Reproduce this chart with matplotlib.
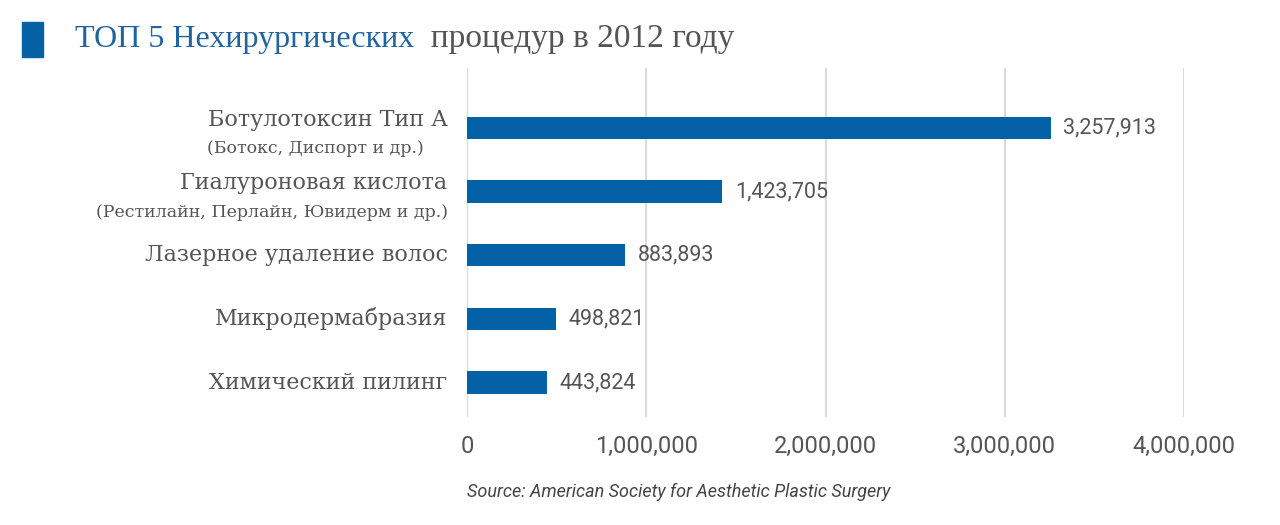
import matplotlib.pyplot as plt
from matplotlib.patches import Rectangle
from matplotlib.ticker import FuncFormatter

# data
procedures = ["Ботулотоксин Тип А", "Гиалуроновая кислота", "Лазерное удаление волос",
              "Микродермабразия", "Химический пилинг"]
subnotes = ["(Ботокс, Диспорт и др.)", "(Рестилайн, Перлайн, Ювидерм и др.)", "", "", ""]
counts = [3257913, 1423705, 883893, 498821, 443824]
ticks = [0, 1000000, 2000000, 3000000, 4000000]

blue = "#0561a6"
gray = "#555555"
W, H = 1280, 525

fig = plt.figure(figsize=(W / 100, H / 100), dpi=100)
fig.patch.set_facecolor("white")

# axes placed in pixel coordinates of the reference
left, right, top, bottom = 467, 1184, 68, 417
ax = fig.add_axes([left / W, 1 - bottom / H, (right - left) / W, (bottom - top) / H])

pos = list(range(len(counts)))
ax.barh(pos, counts, height=0.35, color=blue, zorder=3)
ax.set_xlim(0, 4000000)
ax.set_ylim(4.54, -0.94)

ax.set_xticks(ticks)
ax.xaxis.set_major_formatter(FuncFormatter(lambda v, p: f"{int(v):,}"))
ax.tick_params(axis="x", length=0, pad=13, labelsize=17, labelcolor=gray)
for lab in ax.get_xticklabels():
    lab.set_fontfamily("Roboto")
ax.set_yticks([])
ax.grid(axis="x", color="#d9d9d9", linewidth=1.5, zorder=0)
for s in ax.spines.values():
    s.set_visible(False)

# value labels
for i, v in enumerate(counts):
    ax.annotate(f"{v:,}", (v, i), xytext=(9, 0), textcoords="offset points",
                va="center", ha="left", fontsize=15.5, color=gray, family="Roboto")

# category labels with optional notes
lab_font = dict(ha="right", va="center", color=gray, family="DejaVu Serif",
                textcoords="offset points", annotation_clip=False)
for i, (name, note) in enumerate(zip(procedures, subnotes)):
    if note:
        ax.annotate(name, (0, i), xytext=(-14, 6), fontsize=16, **lab_font)
        # first note sits a little left of the label edge, as in the original
        nx = -31 if i == 0 else -14
        ax.annotate(note, (0, i), xytext=(nx, -15), fontsize=12.5, **lab_font)
    else:
        ax.annotate(name, (0, i), xytext=(-14, 0), fontsize=16, **lab_font)

# title with blue square
fig.patches.append(Rectangle((22 / W, 1 - 57 / H), 21 / W, 35 / H,
                             transform=fig.transFigure, color=blue))
t1 = fig.text(75 / W, 1 - 47 / H, "ТОП 5 Нехирургических", fontsize=23,
              color="#1f64a0", family="Liberation Serif", va="baseline")
fig.canvas.draw()
plt.annotate("  процедур в 2012 году", xy=(1, 0), xycoords=t1,
             fontsize=24, color=gray, family="Liberation Serif", va="bottom")

fig.text(467 / W, 1 - 492 / H, "Source: American Society for Aesthetic Plastic Surgery",
         fontsize=13, style="italic", color="#444444", family="Roboto", va="center")

fig.savefig("out.png", dpi=100)
